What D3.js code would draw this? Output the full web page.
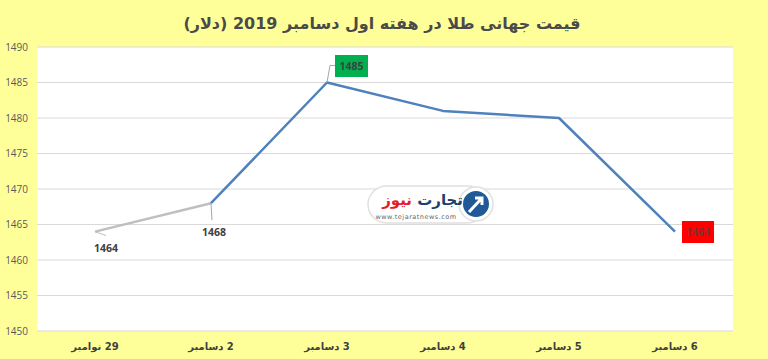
<!DOCTYPE html>
<html><head><meta charset="utf-8">
<script src="https://cdn.jsdelivr.net/npm/d3@7"></script>
<style>html,body{margin:0;padding:0;background:#ffff99;}svg{display:block;}</style>
</head><body>
<svg id="c" width="768" height="359"></svg>
<script>
const title = "قیمت جهانی طلا در هفته اول دسامبر 2019 (دلار)";
const categories = ["29 نوامبر","2 دسامبر","3 دسامبر","4 دسامبر","5 دسامبر","6 دسامبر"];
const values = [1464,1468,1485,1481,1480,1464];
const yTicks = [1450,1455,1460,1465,1470,1475,1480,1485,1490];

const svg = d3.select("#c");
const W=768,H=359;
const m={l:37,r:35,t:47,b:28};
svg.append("rect").attr("width",W).attr("height",H).attr("fill","#ffff99");
const x = d3.scaleBand().domain(categories).range([m.l, W-m.r]);
const y = d3.scaleLinear().domain([1450,1490]).range([H-m.b, m.t]);
svg.append("rect").attr("x",m.l).attr("y",m.t).attr("width",W-m.r-m.l).attr("height",H-m.b-m.t).attr("fill","#fff");

// grid
svg.append("g").selectAll("line").data(yTicks).join("line")
  .attr("x1",m.l).attr("x2",W-m.r).attr("y1",d=>y(d)).attr("y2",d=>y(d))
  .attr("stroke","#d9d9d9").attr("stroke-width",1);
// y axis labels
const ya = svg.append("g").attr("transform",`translate(${m.l-9},0)`)
  .call(d3.axisLeft(y).tickValues(yTicks).tickFormat(d3.format("d")).tickSize(0).tickPadding(0));
ya.select(".domain").remove();
ya.selectAll("text").attr("font-family","'Open Sans',sans-serif").attr("font-size",10).attr("fill","#595959");
// x axis labels (right-to-left: number on the right)
const xa = svg.append("g").attr("transform",`translate(0,${H-m.b+12})`)
  .call(d3.axisBottom(x).tickSize(0).tickPadding(0));
xa.select(".domain").remove();
xa.selectAll("text").attr("font-family","'DejaVu Sans',sans-serif").attr("font-size",10).attr("font-weight","bold")
  .attr("fill","#404040").attr("dy","0.7em").attr("direction","rtl").attr("text-anchor","middle");

// title
svg.append("text").attr("x",382).attr("y",29).attr("text-anchor","middle").attr("direction","rtl")
  .attr("font-family","'DejaVu Sans',sans-serif").attr("font-size",16).attr("font-weight","bold")
  .attr("fill","#4a4a4a").text(title);

const cx = i=>x(categories[i])+x.bandwidth()/2;
// lines
const pts = values.map((v,i)=>[cx(i),y(v)]);
svg.append("path").attr("d",d3.line()(pts.slice(0,2))).attr("fill","none").attr("stroke","#bfbfbf").attr("stroke-width",2.5);
svg.append("path").attr("d",d3.line()(pts.slice(1))).attr("fill","none").attr("stroke","#4f81bd").attr("stroke-width",2.5).attr("stroke-linejoin","round");

// logo watermark
const lg = svg.append("g");
lg.append("rect").attr("x",368).attr("y",186).attr("width",118).attr("height",37).attr("rx",18.5).attr("fill","#fff").attr("stroke","#e0e0e0").attr("stroke-width",1.5);
lg.append("circle").attr("cx",476).attr("cy",204).attr("r",17).attr("fill","#fff").attr("stroke","#e0e0e0").attr("stroke-width",1.5);
lg.append("circle").attr("cx",476).attr("cy",204).attr("r",13).attr("fill","#1f5a96");
lg.append("path").attr("d","M469,212 L482,198 M475,198 L482,198 L482,205").attr("stroke","#fff").attr("stroke-width",3).attr("fill","none");
lg.append("text").attr("x",463).attr("y",205).attr("text-anchor","end").attr("font-family","'DejaVu Sans',sans-serif").attr("font-weight","bold").attr("font-size",15).attr("fill","#1f3f6e").text("تجارت");
lg.append("text").attr("x",412).attr("y",205).attr("text-anchor","end").attr("font-family","'DejaVu Sans',sans-serif").attr("font-weight","bold").attr("font-size",15).attr("fill","#e31e24").text("نیوز");
lg.append("text").attr("x",416).attr("y",219).attr("text-anchor","middle").attr("font-family","'DejaVu Sans',sans-serif").attr("font-size",6.5).attr("fill","#666").attr("letter-spacing",0.5).text("www.tejaratnews.com");

// data labels
const lblFont = "'Open Sans',sans-serif";
function lbl(xx,yy,t,fill){
  svg.append("text").attr("x",xx).attr("y",yy).attr("text-anchor","middle").attr("font-family",lblFont)
    .attr("font-size",10.5).attr("font-weight","bold").attr("fill",fill||"#404040").text(t);
}
// point 0
svg.append("line").attr("x1",pts[0][0]).attr("y1",pts[0][1]).attr("x2",pts[0][0]+11).attr("y2",pts[0][1]+4).attr("stroke","#bfbfbf").attr("stroke-width",1);
lbl(106,252,values[0]);
// point 1
svg.append("line").attr("x1",pts[1][0]).attr("y1",pts[1][1]).attr("x2",pts[1][0]+1).attr("y2",pts[1][1]+17).attr("stroke","#a6a6a6").attr("stroke-width",1);
lbl(214,236,values[1]);
// point 2 (green box)
svg.append("polyline").attr("points",`${pts[2][0]},${pts[2][1]} ${pts[2][0]+3},${pts[2][1]-17} ${pts[2][0]+8},${pts[2][1]-17}`).attr("fill","none").attr("stroke","#a6a6a6").attr("stroke-width",1);
svg.append("rect").attr("x",335).attr("y",55).attr("width",33).attr("height",22).attr("fill","#00b050");
lbl(351.5,70,values[2],"#404040");
// point 5 (red box)
svg.append("rect").attr("x",682).attr("y",221).attr("width",32).attr("height",22).attr("fill","#ff0000");
lbl(698,236,values[5],"#7f3030");
</script>
</body></html>
